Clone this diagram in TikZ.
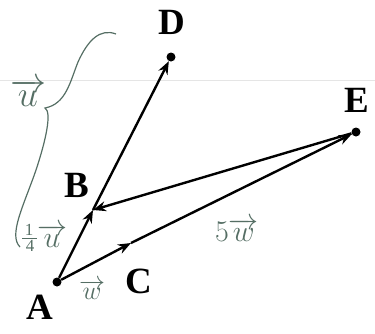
\documentclass[tikz,border=0pt]{standalone}
\usepackage{fix-cm}
\usepackage{fontspec}
\setmainfont{Liberation Serif}
\usetikzlibrary{arrows.meta}
\definecolor{pencil}{RGB}{85,110,100}
\begin{document}
\begin{tikzpicture}[x=1pt,y=-1pt,
    vec/.style={line width=2.4pt,-{Stealth[length=13pt,width=10pt]}},
    dot/.style={circle,fill,inner sep=0pt,minimum size=9pt},
    letter/.style={font=\fontsize{37}{37}\selectfont\bfseries},
    hand/.style={text=pencil,inner sep=0pt},
    digit/.style={hand,font=\fontsize{17}{17}\selectfont}]
    \useasboundingbox (0,0) rectangle (375,333);
    % faint scan line
    \draw[black!10] (0,80) -- (375,80);
    % points
    \node[dot] (a) at (57,282) {};
    \node[dot] (d) at (171,57) {};
    \node[dot] (e) at (356,132) {};
    \coordinate (b) at (93,210);
    \coordinate (c) at (131,243);
    % vectors
    \draw[vec] (a) -- (b);
    \draw[vec] (b) -- (d);
    \draw[vec] (e) -- (b);
    \draw[vec] (a) -- (c);
    \draw[vec] (c) -- (e);
    % letters
    \node[letter] (lA) at (40,307) {A};
    \node[letter] (lB) at (77,185) {B};
    \node[letter] (lC) at (139,281) {C};
    \node[letter] (lD) at (172,22) {D};
    \node[letter] (lE) at (357,100) {E};
    % handwriting
    \draw[pencil,line width=1.2pt] (116,34) .. controls (100,28) and (88,40) .. (78,62)
        .. controls (70,82) and (66,104) .. (45,108)
        .. controls (52,112) and (46,140) .. (36,170)
        .. controls (24,205) and (8,235) .. (20,247);
    \node[hand,font=\fontsize{36}{36}\selectfont] (lu) at (28,93) {$\overrightarrow{u}$};
    \node[digit] (lq1) at (29,230) {1};
    \node[digit] (lq4) at (30,246) {4};
    \draw[pencil,line width=1pt] (22,238) -- (37,238);
    \node[hand,font=\fontsize{30}{30}\selectfont] (lq) at (52,236) {$\overrightarrow{u}$};
    \node[hand,font=\fontsize{26}{26}\selectfont] (lw) at (92,290) {$\overrightarrow{w}$};
    \node[hand,font=\fontsize{30}{30}\selectfont] (l5w) at (237,230) {$5\overrightarrow{w}$};
\end{tikzpicture}
\end{document}
